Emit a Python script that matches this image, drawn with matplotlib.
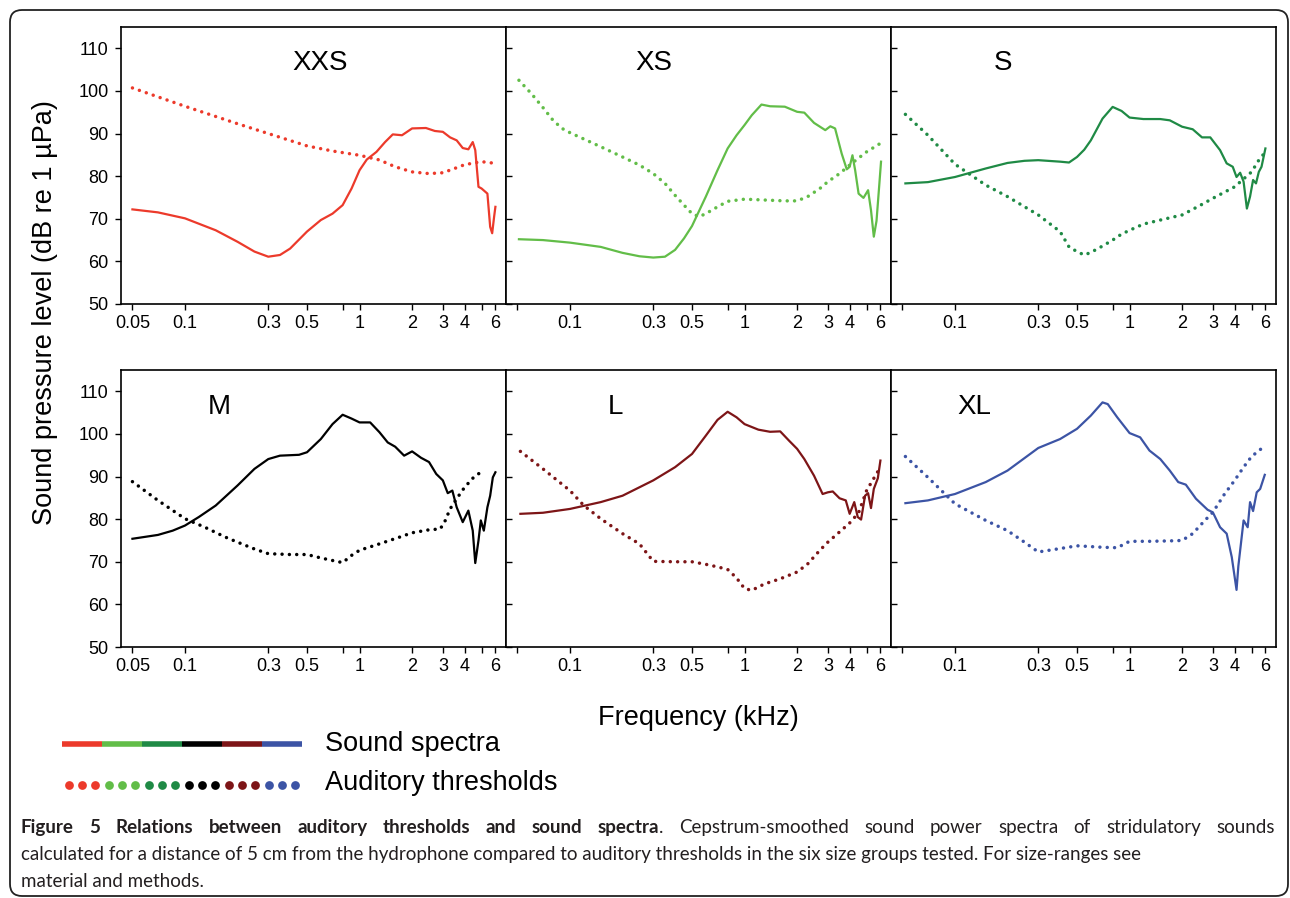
import matplotlib
matplotlib.use('Agg')
import matplotlib.pyplot as plt
from matplotlib.patches import FancyBboxPatch
from matplotlib.transforms import IdentityTransform

plt.rcParams['font.family'] = ['Liberation Sans', 'DejaVu Sans']

# size groups and colours
groups = ['XXS', 'XS', 'S', 'M', 'L', 'XL']
colors = ['#EC3A2B', '#62BD48', '#1F8A45', '#000000', '#7D1517', '#3C54A5']

# sound spectra (kHz, dB re 1 uPa)
xxs_spec_f = [0.05, 0.07, 0.1, 0.15, 0.2, 0.25, 0.3, 0.35, 0.4, 0.5, 0.6, 0.7, 0.8, 0.9, 1.0, 1.1, 1.25, 1.4, 1.55,
              1.75, 2.0, 2.4, 2.7, 3.0, 3.3, 3.6, 3.9, 4.2, 4.45, 4.6, 4.8, 5.0, 5.4, 5.6, 5.75, 5.9, 6.0]
xxs_spec_db = [72.2, 71.5, 70.1, 67.3, 64.6, 62.3, 61.1, 61.5, 63.0, 67.0, 69.7, 71.2, 73.2, 77.1, 81.4, 83.9, 85.7,
               88.0, 89.8, 89.6, 91.2, 91.3, 90.6, 90.4, 89.1, 88.4, 86.6, 86.3, 88.0, 86.1, 77.5, 77.1, 75.9, 68.1,
               66.6, 70.5, 72.8]
xs_spec_f = [0.051, 0.07, 0.1, 0.15, 0.2, 0.25, 0.3, 0.35, 0.4, 0.45, 0.5, 0.6, 0.7, 0.8, 0.9, 1.0, 1.1, 1.25, 1.4,
             1.7, 2.0, 2.2, 2.5, 2.9, 3.1, 3.3, 3.6, 3.85, 4.0, 4.15, 4.3, 4.5, 4.8, 5.1, 5.3, 5.5, 5.7, 5.9, 6.05]
xs_spec_db = [65.2, 65.0, 64.4, 63.4, 62.0, 61.2, 60.9, 61.1, 62.7, 65.4, 68.3, 75.2, 81.4, 86.5, 89.6, 92.0, 94.3,
              96.8, 96.4, 96.3, 95.1, 94.9, 92.5, 90.8, 91.7, 91.2, 85.3, 81.6, 82.2, 84.9, 81.4, 75.9, 74.9, 76.7,
              72.0, 65.8, 69.5, 77.5, 83.4]
s_spec_f = [0.052, 0.07, 0.1, 0.15, 0.2, 0.25, 0.3, 0.4, 0.45, 0.5, 0.55, 0.6, 0.7, 0.8, 0.9, 1.0, 1.2, 1.5, 1.7, 2.0,
            2.3, 2.6, 2.9, 3.3, 3.6, 3.9, 4.1, 4.3, 4.5, 4.7, 4.9, 5.1, 5.3, 5.5, 5.7, 6.0]
s_spec_db = [78.3, 78.6, 79.8, 81.8, 83.1, 83.6, 83.75, 83.4, 83.2, 84.5, 86.2, 88.4, 93.5, 96.25, 95.3, 93.75, 93.4,
             93.4, 93.1, 91.6, 91.0, 89.1, 89.1, 86.1, 83.0, 82.2, 79.8, 80.8, 78.7, 72.4, 75.2, 79.1, 78.3, 81.0,
             82.2, 86.5]
m_spec_f = [0.05, 0.07, 0.085, 0.1, 0.12, 0.15, 0.2, 0.25, 0.3, 0.35, 0.45, 0.5, 0.6, 0.7, 0.8, 0.9, 1.0, 1.15, 1.3,
            1.45, 1.6, 1.8, 2.0, 2.25, 2.5, 2.75, 3.0, 3.2, 3.4, 3.6, 3.9, 4.2, 4.45, 4.6, 4.8, 4.95, 5.15, 5.4, 5.6,
            5.8, 6.0]
m_spec_db = [75.4, 76.3, 77.3, 78.5, 80.5, 83.2, 87.9, 91.8, 94.1, 94.9, 95.1, 95.7, 98.8, 102.3, 104.5, 103.6,
             102.7, 102.7, 100.4, 98.0, 97.0, 94.9, 95.9, 94.4, 93.4, 90.6, 89.1, 86.1, 86.7, 82.8, 79.3, 82.0, 77.3,
             69.7, 75.0, 79.7, 77.3, 82.8, 85.5, 89.8, 91.0]
l_spec_f = [0.052, 0.07, 0.1, 0.15, 0.2, 0.3, 0.4, 0.5, 0.6, 0.7, 0.8, 0.9, 1.0, 1.2, 1.4, 1.6, 1.8, 2.0, 2.2, 2.5,
            2.8, 3.0, 3.2, 3.5, 3.8, 4.0, 4.25, 4.45, 4.65, 4.9, 5.1, 5.3, 5.5, 5.8, 6.0]
l_spec_db = [81.25, 81.5, 82.4, 84.0, 85.5, 89.1, 92.2, 95.3, 99.6, 103.3, 105.2, 103.9, 102.3, 101.0, 100.5, 100.6,
             98.4, 96.5, 94.1, 90.2, 85.9, 86.3, 86.5, 84.9, 84.4, 81.25, 84.0, 80.5, 79.9, 85.5, 86.1, 82.6, 87.1,
             89.6, 93.75]
xl_spec_f = [0.052, 0.07, 0.1, 0.15, 0.2, 0.3, 0.4, 0.5, 0.6, 0.7, 0.75, 0.85, 1.0, 1.15, 1.3, 1.5, 1.7, 1.9, 2.1,
             2.4, 2.8, 3.0, 3.3, 3.6, 3.85, 4.1, 4.2, 4.5, 4.75, 4.9, 5.1, 5.35, 5.6, 5.95]
xl_spec_db = [83.75, 84.4, 85.9, 88.7, 91.4, 96.7, 98.8, 101.2, 104.3, 107.4, 107.0, 103.9, 100.2, 99.2, 96.1, 94.1,
              91.4, 88.7, 88.1, 84.8, 82.2, 81.6, 78.1, 76.6, 71.1, 63.4, 69.0, 79.7, 78.1, 84.0, 81.9, 86.3, 87.1,
              90.4]

# auditory thresholds (kHz, dB re 1 uPa)
xxs_thr_f = [0.05, 0.1, 0.2, 0.3, 0.5, 0.7, 1.0, 1.3, 1.6, 2.0, 2.5, 3.0, 3.5, 4.0, 5.0, 6.0]
xxs_thr_db = [100.7, 96.4, 92.3, 90.0, 87.1, 85.9, 84.9, 83.8, 82.2, 81.0, 80.6, 80.8, 81.8, 82.7, 83.4, 83.0]
xs_thr_f = [0.051, 0.06, 0.07, 0.08, 0.09, 0.1, 0.15, 0.2, 0.25, 0.3, 0.35, 0.4, 0.45, 0.5, 0.55, 0.6, 0.7, 0.8, 1.0,
            1.3, 1.7, 2.0, 2.3, 2.7, 3.0, 3.5, 4.0, 5.0, 6.0]
xs_thr_db = [102.5, 99.4, 96.1, 93.1, 91.2, 90.2, 86.9, 84.5, 82.6, 80.6, 78.3, 75.5, 73.2, 71.2, 70.5, 71.2, 72.8,
             74.1, 74.6, 74.4, 74.2, 74.2, 75.2, 77.1, 78.7, 80.6, 82.6, 85.7, 87.7]
s_thr_f = [0.052, 0.07, 0.1, 0.15, 0.2, 0.3, 0.4, 0.45, 0.5, 0.55, 0.6, 0.7, 0.8, 0.9, 1.0, 1.2, 1.5, 2.0, 2.5, 3.0,
           4.0, 5.0, 5.5, 6.0]
s_thr_db = [94.5, 89.6, 82.8, 77.9, 75.2, 70.9, 67.0, 63.4, 62.3, 61.5, 62.1, 63.6, 65.0, 66.4, 67.3, 68.75, 69.7,
            70.9, 73.0, 74.8, 77.5, 81.0, 83.75, 85.7]
m_thr_f = [0.05, 0.07, 0.1, 0.13, 0.17, 0.2, 0.25, 0.3, 0.4, 0.5, 0.6, 0.7, 0.8, 0.9, 1.0, 1.3, 1.7, 2.0, 2.5, 2.9,
           3.1, 3.3, 3.6, 4.0, 4.5, 4.9]
m_thr_db = [88.8, 84.4, 80.1, 78.1, 75.8, 74.6, 73.0, 71.9, 71.7, 71.7, 70.9, 70.3, 69.8, 71.5, 72.7, 74.2, 75.8,
            76.8, 77.5, 77.7, 79.7, 82.4, 84.8, 87.5, 89.8, 90.9]
l_thr_f = [0.052, 0.07, 0.1, 0.12, 0.15, 0.2, 0.25, 0.3, 0.4, 0.5, 0.6, 0.7, 0.8, 0.9, 1.0, 1.1, 1.3, 1.6, 2.0, 2.3,
           2.7, 3.0, 3.5, 4.0, 4.5, 5.0, 6.0]
l_thr_db = [95.9, 91.8, 86.7, 83.2, 80.1, 76.6, 74.2, 70.1, 70.0, 70.0, 69.4, 68.8, 68.2, 66.2, 63.7, 63.3, 64.8,
            66.0, 67.6, 69.5, 72.7, 74.6, 77.0, 79.1, 81.5, 86.7, 92.2]
xl_thr_f = [0.052, 0.07, 0.1, 0.15, 0.2, 0.25, 0.3, 0.4, 0.5, 0.7, 0.85, 1.0, 1.3, 1.7, 2.0, 2.3, 2.7, 3.0, 3.5, 4.0,
            4.5, 5.0, 6.0]
xl_thr_db = [94.7, 89.8, 83.6, 79.7, 77.3, 74.6, 72.3, 73.1, 73.75, 73.4, 73.3, 74.8, 74.8, 74.9, 75.0, 76.6, 79.7,
             81.6, 85.9, 89.1, 92.2, 94.7, 97.3]

spectra = [(xxs_spec_f, xxs_spec_db), (xs_spec_f, xs_spec_db), (s_spec_f, s_spec_db),
           (m_spec_f, m_spec_db), (l_spec_f, l_spec_db), (xl_spec_f, xl_spec_db)]
thresholds = [(xxs_thr_f, xxs_thr_db), (xs_thr_f, xs_thr_db), (s_thr_f, s_thr_db),
              (m_thr_f, m_thr_db), (l_thr_f, l_thr_db), (xl_thr_f, xl_thr_db)]

xticks = [0.05, 0.1, 0.3, 0.5, 0.8, 1, 2, 3, 4, 5, 6]
xticklabels = ['0.05', '0.1', '0.3', '0.5', '', '1', '2', '3', '4', '', '6']
yticks = [50, 60, 70, 80, 90, 100, 110]

# panel label placement (axes fraction)
label_pos = [(0.517, 0.87), (0.384, 0.87), (0.29, 0.87), (0.255, 0.865), (0.283, 0.865), (0.216, 0.865)]

W, H = 1290, 898
fig = plt.figure(figsize=(W / 100, H / 100), dpi=100)

lefts = [121, 506, 891]
tops = [27, 370]
pw, ph = 385, 277

for i in range(6):
    r, c = divmod(i, 3)
    ax = fig.add_axes([lefts[c] / W, 1 - (tops[r] + ph) / H, pw / W, ph / H])
    f, db = spectra[i]
    ax.plot(f, db, color=colors[i], lw=1.6, solid_joinstyle='round')
    f, db = thresholds[i]
    ax.plot(f, db, color=colors[i], lw=2.5, linestyle=(0, (0.01, 2.1)), dash_capstyle='round')
    ax.set_xscale('log')
    ax.set_xlim(0.043, 6.9)
    ax.set_ylim(50, 115)
    ax.minorticks_off()
    ax.set_xticks(xticks)
    labs = list(xticklabels)
    if c > 0:
        labs[0] = ''
    ax.set_xticklabels(labs)
    ax.set_yticks(yticks)
    ax.tick_params(axis='x', direction='out', length=4, width=1, labelsize=13, pad=4)
    if c == 0:
        ax.tick_params(axis='y', direction='out', length=4, width=1, labelsize=13, pad=5)
    else:
        ax.tick_params(axis='y', direction='in', length=4, width=1, labelleft=False)
    for s in ax.spines.values():
        s.set_linewidth(1.2)
    ax.text(label_pos[i][0], label_pos[i][1], groups[i], transform=ax.transAxes,
            ha='center', va='center', fontsize=20)

fig.text(45 / W, 1 - 313 / H, 'Sound pressure level (dB re 1 \u00b5Pa)', rotation=90,
         ha='center', va='center', fontsize=19.5)
fig.text(698 / W, 1 - 718 / H, 'Frequency (kHz)', ha='center', va='center', fontsize=19.5)

# colour key
lax = fig.add_axes([62 / W, 1 - 800 / H, 240 / W, 70 / H])
lax.set_xlim(0, 6)
lax.set_ylim(0, 70)
lax.axis('off')
for i, col in enumerate(colors):
    lax.plot([i, i + 1], [56, 56], color=col, lw=4.0, solid_capstyle='butt')
    lax.plot([i + 1 / 6, i + 0.5, i + 5 / 6], [15, 15, 15], 'o', color=col, ms=6.3, mec='none')
fig.text(325 / W, 1 - 744 / H, 'Sound spectra', ha='left', va='center', fontsize=19.5)
fig.text(325 / W, 1 - 783 / H, 'Auditory thresholds', ha='left', va='center', fontsize=19.5)

# caption
renderer = fig.canvas.get_renderer()
cap_font = ['Lato', 'DejaVu Sans']


def text_w(s, **kw):
    t = fig.text(0, 0, s, **kw)
    w = t.get_window_extent(renderer).width
    t.remove()
    return w


line2 = ('calculated for a distance of 5 cm from the hydrophone compared to auditory thresholds in the six size '
         'groups tested. For size-ranges see')
cs = 12 * 1119 / text_w(line2, fontsize=12, family=cap_font)
cap_col = '#231f20'

bold_words = 'Figure 5 Relations between auditory thresholds and sound spectra'.split()
rest_words = 'Cepstrum-smoothed sound power spectra of stridulatory sounds'.split()
tokens = [(w, 'bold', True) for w in bold_words] + [('.', 'normal', False)] + [(w, 'normal', True) for w in rest_words]
widths = [text_w(t, fontsize=cs, family=cap_font, weight=wt) for t, wt, _ in tokens]
ngaps = sum(1 for t in tokens[1:] if t[2])
gap = (1275 - 21 - sum(widths)) / ngaps
x = 21
for (t, wt, sp), w in zip(tokens, widths):
    if sp and x > 21:
        x += gap
    fig.text(x / W, 1 - 833 / H, t, fontsize=cs, family=cap_font, weight=wt, color=cap_col,
             ha='left', va='baseline')
    x += w
fig.text(21 / W, 1 - 860 / H, line2, fontsize=cs, family=cap_font, color=cap_col, ha='left', va='baseline')
fig.text(21 / W, 1 - 887 / H, 'material and methods.', fontsize=cs, family=cap_font, color=cap_col,
         ha='left', va='baseline')

# rounded frame
fig.patches.append(FancyBboxPatch((10, 2), 1278, 886, boxstyle='round,pad=0,rounding_size=12',
                                  transform=IdentityTransform(), fill=False, lw=1.3, ec='#222222'))

fig.savefig('out.png', dpi=100)
